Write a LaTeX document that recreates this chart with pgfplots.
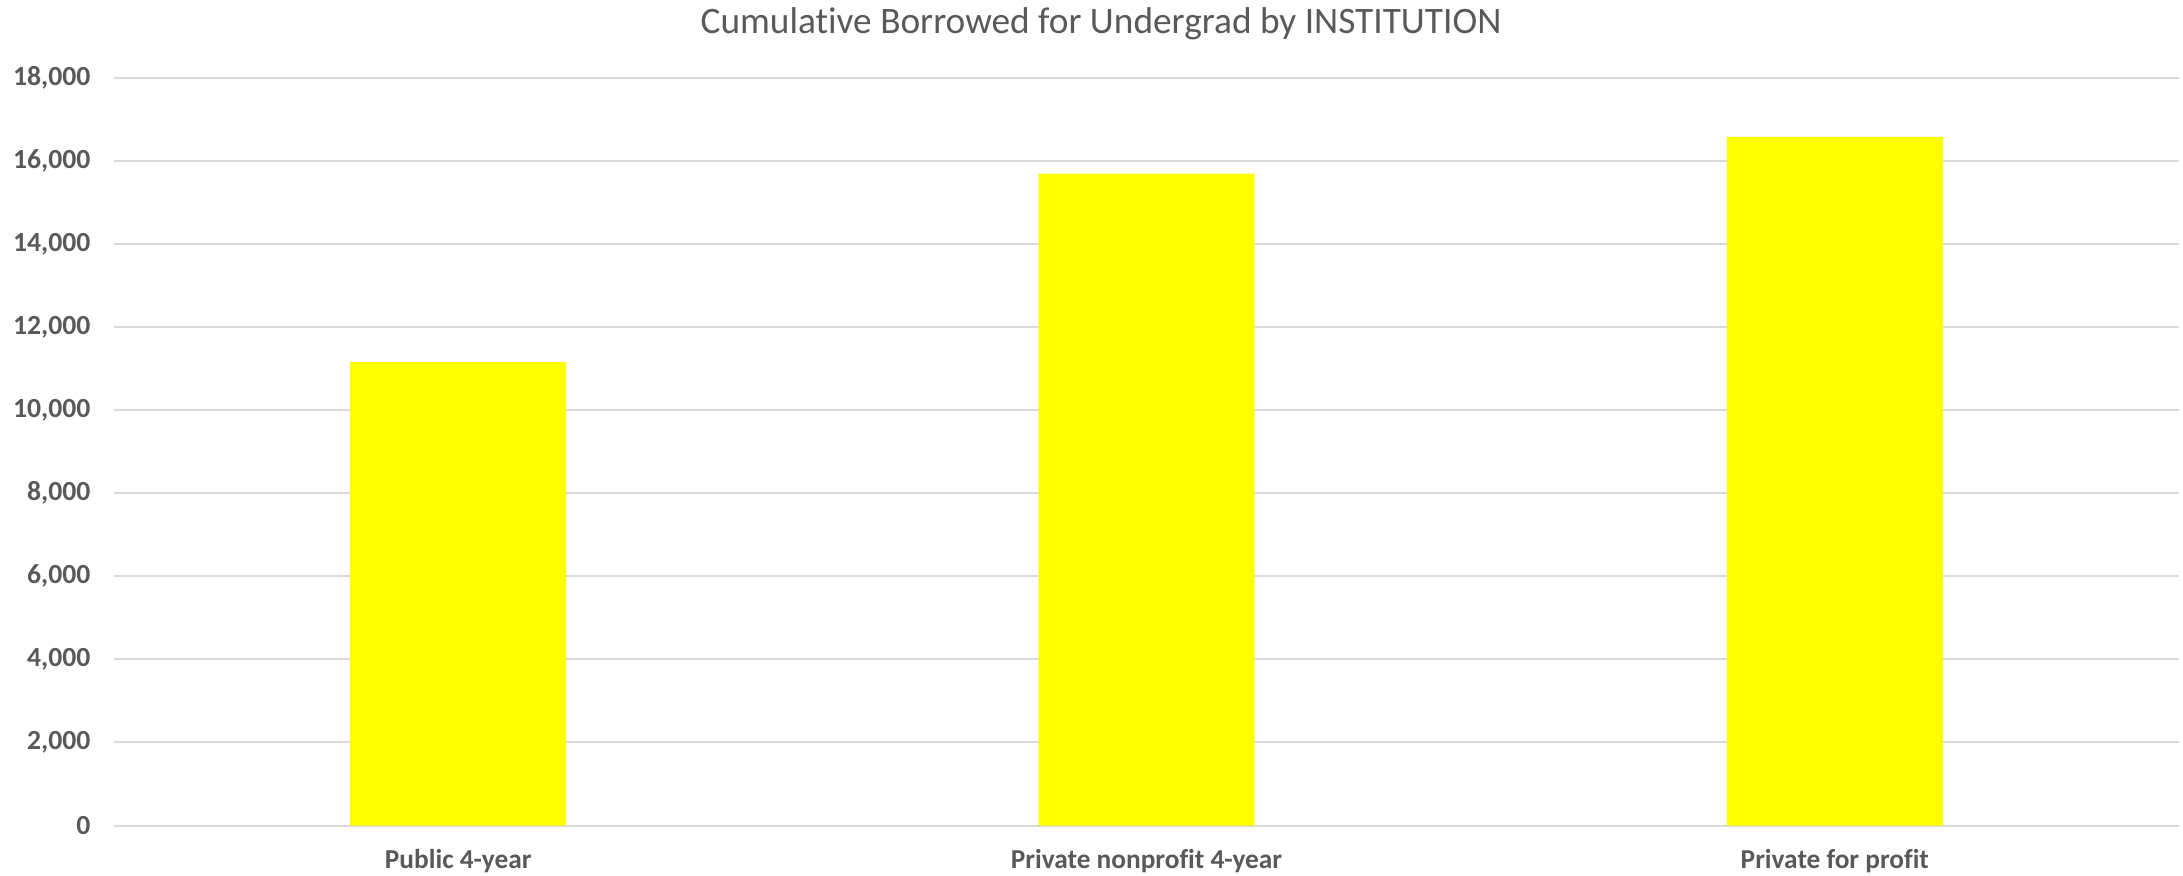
\documentclass[border=0pt]{standalone}
\usepackage{pgfplots}
\pgfplotsset{compat=1.18}
\usepackage{fontspec}
\setmainfont{Carlito}[Ligatures={NoCommon}]
\definecolor{txtgray}{HTML}{595959}
\definecolor{gridgray}{HTML}{D9D9D9}
\definecolor{baryellow}{HTML}{FFFF00}
\begin{document}
\begin{tikzpicture}
\useasboundingbox (-34.2pt,-14.85pt) rectangle (620.7pt,247.65pt);
\begin{axis}[
  scale only axis,
  width=619.5pt, height=224.25pt,
  xmin=-0.5, xmax=2.5,
  ymin=0, ymax=18000,
  ytick={0,2000,...,18000},
  xtick={0,1,2},
  xticklabels={Public 4-year, Private nonprofit 4-year, Private for profit},
  axis line style={draw=none},
  major tick style={draw=none},
  ymajorgrids,
  grid style={gridgray, line width=0.6pt},
  scaled y ticks=false,
  /pgf/number format/.cd, 1000 sep={,}, assume math mode=true,
  /pgfplots/.cd,
  yticklabel style={font=\fontsize{8.3}{9}\selectfont\bfseries, text=txtgray, anchor=east, inner sep=0pt, xshift=-6.9pt},
  xticklabel style={font=\fontsize{8.2}{9}\selectfont\bfseries, text=txtgray, anchor=north, inner sep=0pt, yshift=-2.8pt},
  ybar, bar width=64.8pt,
]
\addplot[fill=baryellow, draw=none] coordinates {(0,11160) (1,15700) (2,16580)};
\end{axis}
\node[text=txtgray, font=\fontsize{11.2}{12}\selectfont] at (296.1pt,240.4pt) {Cumulative Borrowed for Undergrad by INSTITUTION};
\end{tikzpicture}
\end{document}
